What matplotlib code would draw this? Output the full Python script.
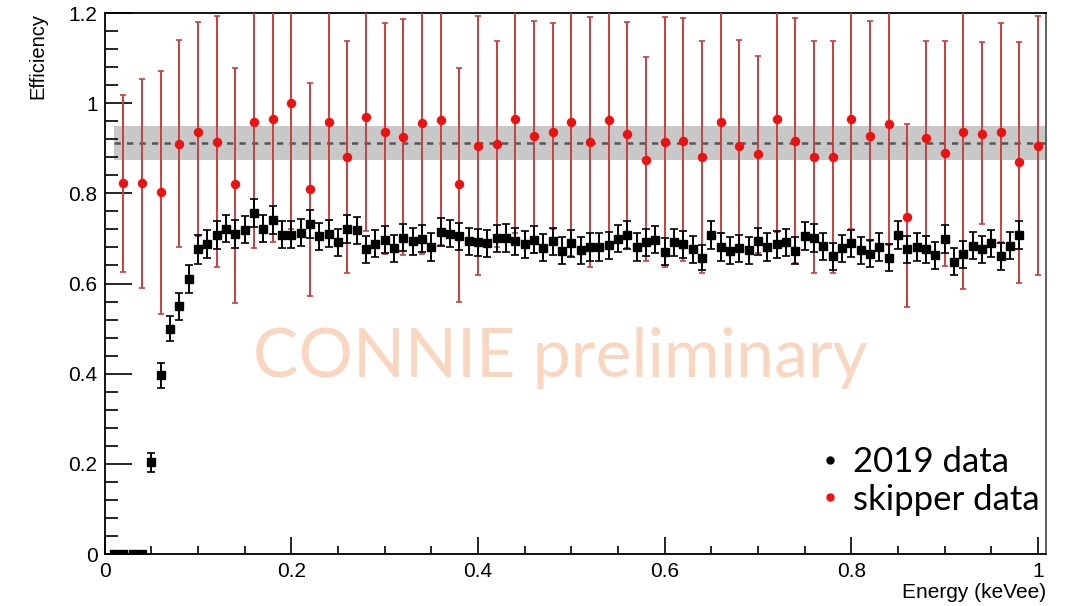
import numpy as np
import matplotlib
matplotlib.use('Agg')
import matplotlib.pyplot as plt
from matplotlib.lines import Line2D
from matplotlib.ticker import MultipleLocator

# 2019 data (black), bins every 0.01 keVee
energy_2019 = np.round(np.arange(1, 99) * 0.01, 2)
eff_2019 = [0, 0, 0, 0, 0.203, 0.396, 0.500, 0.550, 0.610, 0.676,
            0.688, 0.708, 0.722, 0.710, 0.719, 0.757, 0.722, 0.741, 0.708, 0.708,
            0.713, 0.733, 0.705, 0.710, 0.691, 0.720, 0.718, 0.676, 0.688, 0.697,
            0.678, 0.702, 0.694, 0.699, 0.681, 0.714, 0.710, 0.705, 0.694, 0.691,
            0.689, 0.700, 0.700, 0.694, 0.687, 0.697, 0.679, 0.694, 0.673, 0.689,
            0.674, 0.681, 0.681, 0.685, 0.699, 0.708, 0.681, 0.691, 0.697, 0.671,
            0.691, 0.687, 0.676, 0.657, 0.707, 0.681, 0.673, 0.678, 0.674, 0.694,
            0.681, 0.687, 0.691, 0.673, 0.705, 0.702, 0.683, 0.660, 0.678, 0.689,
            0.674, 0.666, 0.681, 0.657, 0.707, 0.676, 0.681, 0.676, 0.663, 0.699,
            0.648, 0.665, 0.684, 0.676, 0.689, 0.660, 0.684, 0.708]
err_2019 = [0, 0, 0, 0, 0.022, 0.027, 0.028, 0.030, 0.031, 0.032,
            0.031, 0.031, 0.031, 0.031, 0.030, 0.031, 0.031, 0.031, 0.030, 0.030,
            0.030, 0.031, 0.030, 0.030, 0.030, 0.031, 0.030, 0.030, 0.030, 0.030,
            0.030, 0.030, 0.030, 0.030, 0.030, 0.031, 0.030, 0.030, 0.030, 0.030,
            0.030, 0.030, 0.031, 0.030, 0.030, 0.030, 0.030, 0.030, 0.030, 0.030,
            0.030, 0.030, 0.030, 0.030, 0.030, 0.031, 0.030, 0.030, 0.030, 0.030,
            0.030, 0.030, 0.030, 0.028, 0.031, 0.030, 0.030, 0.030, 0.030, 0.030,
            0.030, 0.030, 0.030, 0.030, 0.031, 0.031, 0.030, 0.030, 0.030, 0.030,
            0.030, 0.030, 0.030, 0.030, 0.031, 0.030, 0.030, 0.030, 0.030, 0.031,
            0.030, 0.030, 0.030, 0.030, 0.030, 0.030, 0.030, 0.031]

# skipper data (red), bins every 0.02 keVee
energy_skp = np.round(np.arange(1, 51) * 0.02, 2)
eff_skp = [0.822, 0.822, 0.802, 0.909, 0.935, 0.913, 0.820, 0.958, 0.964, 1.000,
           0.810, 0.958, 0.880, 0.969, 0.937, 0.925, 0.955, 0.963, 0.820, 0.906,
           0.909, 0.966, 0.927, 0.937, 0.958, 0.913, 0.963, 0.932, 0.874, 0.913,
           0.916, 0.880, 0.958, 0.904, 0.887, 0.966, 0.916, 0.880, 0.880, 0.966,
           0.927, 0.953, 0.748, 0.922, 0.890, 0.935, 0.932, 0.937, 0.869, 0.906]
low_skp = [0.626, 0.591, 0.532, 0.682, 0.705, 0.637, 0.557, 0.678, 0.693, 0.720,
           0.572, 0.740, 0.624, 0.717, 0.665, 0.663, 0.665, 0.685, 0.559, 0.619,
           0.680, 0.711, 0.667, 0.720, 0.660, 0.637, 0.689, 0.678, 0.651, 0.637,
           0.649, 0.623, 0.711, 0.671, 0.667, 0.715, 0.646, 0.623, 0.623, 0.720,
           0.695, 0.685, 0.548, 0.705, 0.639, 0.587, 0.731, 0.693, 0.602, 0.618]
high_skp = [1.018, 1.053, 1.071, 1.140, 1.181, 1.193, 1.079, 1.25, 1.25, 1.25,
            1.044, 1.25, 1.139, 1.25, 1.177, 1.186, 1.25, 1.25, 1.079, 1.194,
            1.139, 1.25, 1.183, 1.177, 1.25, 1.191, 1.25, 1.180, 1.102, 1.191,
            1.189, 1.139, 1.25, 1.140, 1.105, 1.25, 1.189, 1.139, 1.139, 1.25,
            1.183, 1.25, 0.953, 1.139, 1.139, 1.25, 1.136, 1.177, 1.136, 1.193]

# mean skipper efficiency and its band
mean_eff = 0.911
band_low, band_high = 0.873, 0.950

fig = plt.figure(figsize=(10.74, 6.06), dpi=100)
ax = fig.add_axes([0.0973, 0.0858, 0.8767, 0.8927])

ax.axhspan(band_low, band_high, xmin=0.01 / 1.0085, xmax=1, color='#c8c8c8', lw=0, zorder=1)
ax.axhline(mean_eff, xmin=0.01 / 1.0085, xmax=1, color='#555555', ls=(0, (2.5, 2.5)), lw=1.8, zorder=2)

eff_skp = np.array(eff_skp)
yerr_skp = [eff_skp - np.array(low_skp), np.array(high_skp) - eff_skp]
ax.errorbar(energy_skp, eff_skp, yerr=yerr_skp, fmt='none', ecolor='#c84040',
            elinewidth=1.4, capsize=2.5, capthick=1.2, zorder=3)
ax.plot(energy_skp, eff_skp, 'o', color='#ee1111', ms=6.8, mew=0, zorder=5)

ax.errorbar(energy_2019, eff_2019, yerr=err_2019, fmt='s', color='black', ms=5.3,
            ecolor='black', elinewidth=1.4, capsize=2.8, capthick=1.2, zorder=4)

ax.text(0.484, 0.362, 'CONNIE preliminary', transform=ax.transAxes, ha='center', va='center',
        fontsize=49, family='Lato', color='#f9d6bf', zorder=0)

ax.set_xlim(0, 1.0085)
ax.set_ylim(0, 1.2)
ax.xaxis.set_major_locator(MultipleLocator(0.2))
ax.xaxis.set_minor_locator(MultipleLocator(0.05))
ax.yaxis.set_major_locator(MultipleLocator(0.2))
ax.yaxis.set_minor_locator(MultipleLocator(0.04))
ax.set_xticks([0, 0.2, 0.4, 0.6, 0.8, 1.0], ['0', '0.2', '0.4', '0.6', '0.8', '1'])
ax.set_yticks([0, 0.2, 0.4, 0.6, 0.8, 1.0, 1.2], ['0', '0.2', '0.4', '0.6', '0.8', '1', '1.2'])
ax.tick_params(axis='y', which='major', direction='in', length=19.4, width=1.2, pad=5,
               labelsize=15, labelfontfamily='Liberation Sans')
ax.tick_params(axis='y', which='minor', direction='in', length=9.7, width=1.2)
ax.tick_params(axis='x', which='major', direction='in', length=12, width=1.2, pad=6,
               labelsize=15, labelfontfamily='Liberation Sans')
ax.tick_params(axis='x', which='minor', direction='in', length=6, width=1.2)
for s in ax.spines.values():
    s.set_linewidth(1.3)
ax.spines['right'].set_color('#555555')

ax.set_ylabel('Efficiency', loc='top', fontsize=14.5, family='Liberation Sans')
ax.yaxis.set_label_coords(-0.061, 1.0)
ax.set_xlabel('Energy (keVee)', loc='right', fontsize=15, family='Liberation Sans')
ax.xaxis.set_label_coords(1.0, -0.053)

handles = [Line2D([], [], ls='none', marker='o', color='black', ms=5),
           Line2D([], [], ls='none', marker='o', color='#ee1111', ms=5)]
ax.legend(handles, ['2019 data', 'skipper data'], loc='upper left', bbox_to_anchor=(0.765, 0.199),
          frameon=False, borderpad=0, borderaxespad=0, handlelength=0.3, handletextpad=0.5,
          labelspacing=0.15, prop={'family': 'Lato', 'size': 25})

fig.savefig('out.png', dpi=100)
